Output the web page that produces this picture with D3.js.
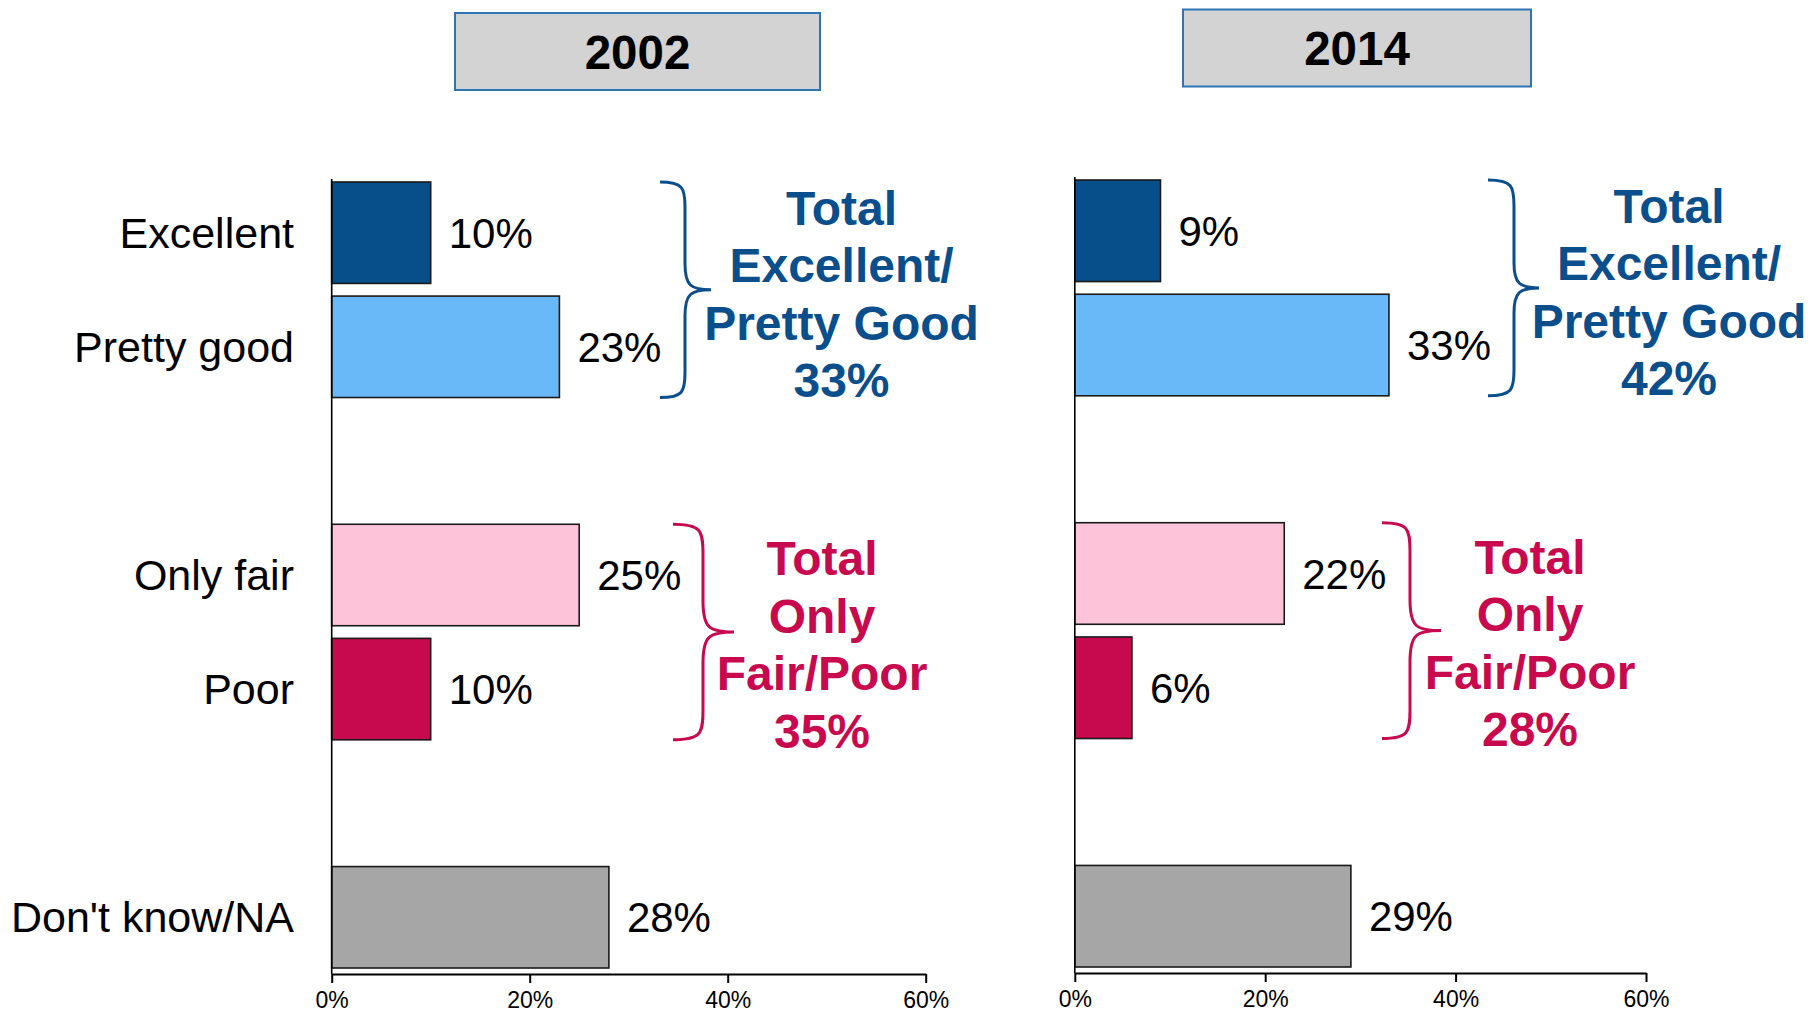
<!DOCTYPE html>
<html>
<head>
<meta charset="utf-8">
<script src="https://cdn.jsdelivr.net/npm/d3@7"></script>
<style>
  html, body { margin: 0; padding: 0; background: #ffffff; }
  svg { display: block; }
  text { font-family: "Liberation Sans", Arial, Helvetica, sans-serif; }
</style>
</head>
<body>
<svg id="chart" width="1812" height="1013"></svg>
<script>
// ---------- DATA ----------
const years = ["2002", "2014"];
const categories = ["Excellent", "Pretty good", "Only fair", "Poor", "Don't know/NA"];
const slots = ["Excellent", "Pretty good", "gap1", "Only fair", "Poor", "gap2", "Don't know/NA"];
const values2002 = [10, 23, 25, 10, 28];
const values2014 = [9, 33, 22, 6, 29];
const totalGood = [33, 42];   // Total Excellent/Pretty Good
const totalPoor = [35, 28];   // Total Only Fair/Poor
const tickValues = [0, 20, 40, 60];
const tickLabels = ["0%", "20%", "40%", "60%"];
const goodLines = ["Total", "Excellent/", "Pretty Good"];
const poorLines = ["Total", "Only", "Fair/Poor"];

// ---------- STYLE ----------
const barColors = ["#074f8a", "#69b8f8", "#fdc4d9", "#c7094d", "#a6a6a6"];
const blueText = "#0a4f8c";
const pinkText = "#c8094e";

const svg = d3.select("#chart");

const panels = [
  { year: years[0], values: values2002, good: totalGood[0], poor: totalPoor[0],
    x0: 331.7, x1: 925.7, yTop: 179, yBottom: 974, showCats: true,
    box: [455, 13, 365, 77],
    goodBrace: { tip: 660, spine: 685, point: 711 }, goodTextX: 841.5,
    poorBrace: { tip: 673, spine: 703, point: 734 }, poorTextX: 822 },
  { year: years[1], values: values2014, good: totalGood[1], poor: totalPoor[1],
    x0: 1074.8, x1: 1646, yTop: 177, yBottom: 973, showCats: false,
    box: [1183, 9.5, 348, 77],
    goodBrace: { tip: 1488, spine: 1514, point: 1539 }, goodTextX: 1669,
    poorBrace: { tip: 1382, spine: 1410, point: 1441 }, poorTextX: 1530 }
];

function bracePath(tx, sx, px, y0, y1) {
  const ym = (y0 + y1) / 2;
  const r = sx - tx;
  const r2 = px - sx;
  return `M${tx},${y0}` +
    `C${sx - 2},${y0} ${sx},${y0 + 6} ${sx},${y0 + r}` +
    `L${sx},${ym - r2}` +
    `C${sx},${ym - 4} ${sx + 6},${ym} ${px},${ym}` +
    `C${sx + 6},${ym} ${sx},${ym + 4} ${sx},${ym + r2}` +
    `L${sx},${y1 - r}` +
    `C${sx},${y1 - 6} ${sx - 2},${y1} ${tx},${y1}`;
}

panels.forEach(p => {
  const g = svg.append("g");

  // title box
  g.append("rect")
    .attr("x", p.box[0]).attr("y", p.box[1])
    .attr("width", p.box[2]).attr("height", p.box[3])
    .attr("fill", "#d3d3d3").attr("stroke", "#2e75b6").attr("stroke-width", 2);
  g.append("text")
    .attr("x", p.box[0] + p.box[2] / 2)
    .attr("y", p.box[1] + p.box[3] / 2 + 17)
    .attr("text-anchor", "middle")
    .attr("font-size", 47.5).attr("font-weight", "bold").attr("fill", "#000")
    .text(p.year);

  const x = d3.scaleLinear().domain([0, 60]).range([p.x0, p.x1]);
  const y = d3.scaleBand().domain(slots)
    .range([p.yTop - 3, p.yBottom])
    .paddingInner(0.111).paddingOuter(0.0525);
  const bw = y.bandwidth();

  const rows = categories.map((c, i) => ({ cat: c, value: p.values[i], color: barColors[i] }));

  // bars
  g.selectAll("rect.bar").data(rows).enter().append("rect")
    .attr("class", "bar")
    .attr("x", x(0))
    .attr("y", d => y(d.cat))
    .attr("width", d => x(d.value) - x(0))
    .attr("height", bw)
    .attr("fill", d => d.color)
    .attr("stroke", "#1a1a1a").attr("stroke-width", 1.6);

  // value labels
  g.selectAll("text.val").data(rows).enter().append("text")
    .attr("class", "val")
    .attr("x", d => x(d.value) + 18)
    .attr("y", d => y(d.cat) + bw / 2 + 15)
    .attr("font-size", 42).attr("fill", "#000")
    .text(d => d.value + "%");

  // category labels
  if (p.showCats) {
    g.selectAll("text.cat").data(rows).enter().append("text")
      .attr("class", "cat")
      .attr("x", 294)
      .attr("y", d => y(d.cat) + bw / 2 + 15)
      .attr("text-anchor", "end")
      .attr("font-size", 43).attr("fill", "#000")
      .text(d => d.cat);
  }

  // vertical axis line
  g.append("line")
    .attr("x1", x(0)).attr("x2", x(0))
    .attr("y1", p.yTop).attr("y2", p.yBottom)
    .attr("stroke", "#000").attr("stroke-width", 1.6);

  // x axis
  const axis = d3.axisBottom(x)
    .tickValues(tickValues)
    .tickFormat((d, i) => tickLabels[i])
    .tickSizeInner(9).tickSizeOuter(0).tickPadding(9);
  const ax = g.append("g")
    .attr("transform", `translate(0,${p.yBottom})`)
    .call(axis);
  ax.select(".domain").attr("stroke", "#000").attr("stroke-width", 2.2);
  ax.selectAll(".tick line").attr("stroke", "#000").attr("stroke-width", 2);
  ax.selectAll(".tick text")
    .attr("font-size", 23).attr("fill", "#000")
    .attr("font-family", "'Liberation Sans', Arial, sans-serif");

  // braces
  const gy0 = y("Excellent"), gy1 = y("Pretty good") + bw;
  g.append("path")
    .attr("d", bracePath(p.goodBrace.tip, p.goodBrace.spine, p.goodBrace.point, gy0, gy1))
    .attr("fill", "none").attr("stroke", blueText).attr("stroke-width", 3);
  const py0 = y("Only fair"), py1 = y("Poor") + bw;
  g.append("path")
    .attr("d", bracePath(p.poorBrace.tip, p.poorBrace.spine, p.poorBrace.point, py0, py1))
    .attr("fill", "none").attr("stroke", pinkText).attr("stroke-width", 3);

  // annotation texts
  const gMid = (gy0 + gy1) / 2;
  const gl = goodLines.concat([p.good + "%"]);
  g.selectAll("text.good").data(gl).enter().append("text")
    .attr("class", "good")
    .attr("x", p.goodTextX)
    .attr("y", (d, i) => gMid - 65 + i * 57.5)
    .attr("text-anchor", "middle")
    .attr("font-size", 48).attr("font-weight", "bold").attr("fill", blueText)
    .text(d => d);

  const pMid = (py0 + py1) / 2;
  const pl = poorLines.concat([p.poor + "%"]);
  g.selectAll("text.poor").data(pl).enter().append("text")
    .attr("class", "poor")
    .attr("x", p.poorTextX)
    .attr("y", (d, i) => pMid - 57 + i * 57.5)
    .attr("text-anchor", "middle")
    .attr("font-size", 48).attr("font-weight", "bold").attr("fill", pinkText)
    .text(d => d);
});
</script>
</body>
</html>
